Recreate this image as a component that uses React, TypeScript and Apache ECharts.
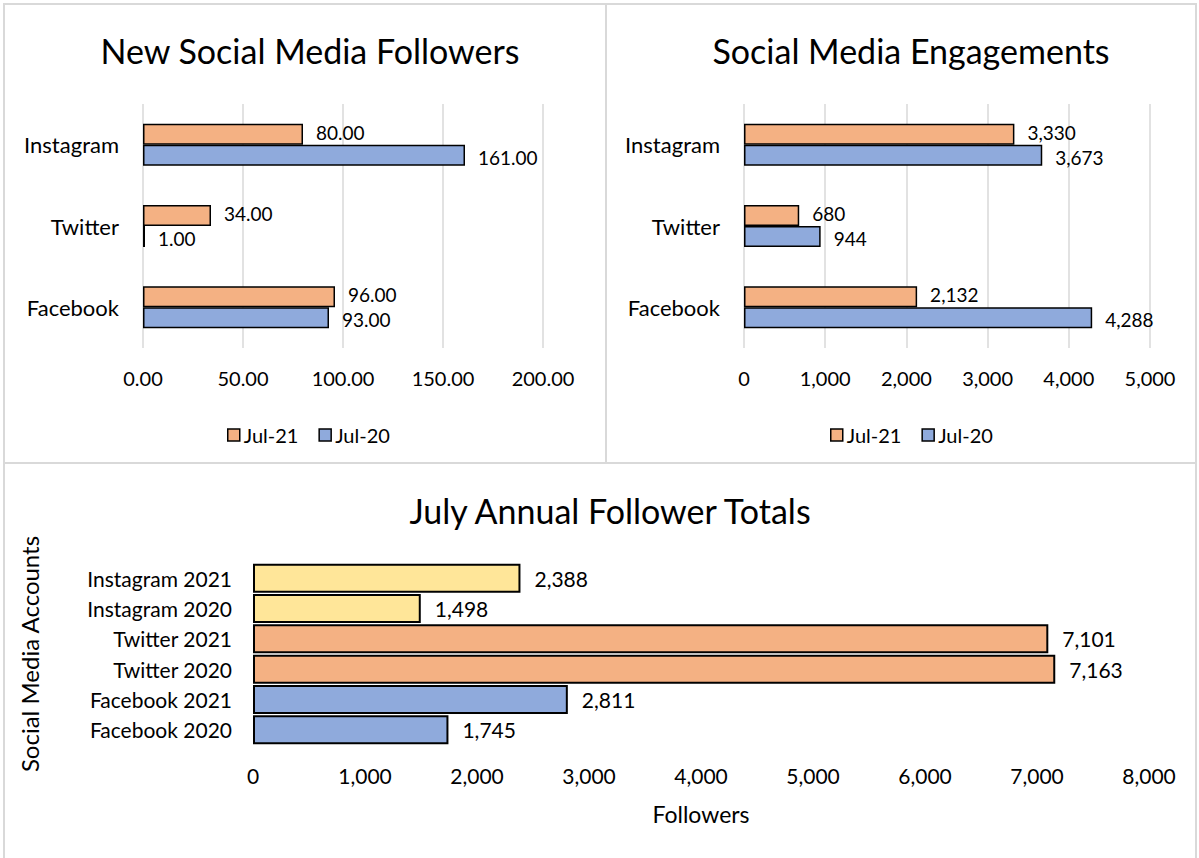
import React, { useEffect, useRef } from "react";
import * as echarts from "echarts";

const platforms = ["Facebook", "Twitter", "Instagram"];
const newFollowersJul20 = [93, 1, 161];
const newFollowersJul21 = [96, 34, 80];
const engagementsJul20 = [4288, 944, 3673];
const engagementsJul21 = [2132, 680, 3330];

const totalCategories = [
  "Facebook 2020",
  "Facebook 2021",
  "Twitter 2020",
  "Twitter 2021",
  "Instagram 2020",
  "Instagram 2021",
];
const totalValues = [1745, 2811, 7163, 7101, 1498, 2388];
const totalColors = ["#8FAADC", "#8FAADC", "#F4B183", "#F4B183", "#FFE699", "#FFE699"];

const ORANGE = "#F4B183";
const BLUE = "#8FAADC";
const FONT = "Lato";
const fmt = (v: number) => v.toLocaleString("en-US");

export default function App() {
  const ref = useRef<HTMLDivElement>(null);
  useEffect(() => {
    document.body.style.margin = "0";
    const chart = echarts.init(ref.current!, undefined, { renderer: "svg" });
    const catAxisBase = {
      type: "category" as const,
      axisLine: { show: false },
      axisTick: { show: false },
      axisLabel: { color: "#000", fontSize: 22, fontFamily: FONT, margin: 24 },
    };
    const valLabel = { color: "#000", fontSize: 20, fontFamily: FONT, margin: 20 };
    const barStyle = (c: string) => ({ color: c, borderColor: "#000", borderWidth: 1.5 });
    const titleStyle = { fontSize: 34, fontWeight: "normal", color: "#000", fontFamily: FONT };
    const legendBase = {
      data: ["Jul-21", "Jul-20"], top: 420, itemWidth: 12, itemHeight: 12, itemGap: 20,
      textStyle: { fontSize: 20, color: "#000", fontFamily: FONT, padding: [0, 0, 0, -1] },
      icon: "rect",
      itemStyle: { borderColor: "#000", borderWidth: 1.5 },
    };
    const labelTop = (f: (v: number) => string, dy: number) => ({
      show: true, position: "right", distance: 13, fontSize: 19, color: "#000", fontFamily: FONT,
      offset: [0, dy],
      formatter: (p: any) => f(p.value),
    });
    chart.setOption({
      animation: false,
      backgroundColor: "#fff",
      textStyle: { fontFamily: FONT },
      title: [
        { text: "New Social Media Followers", left: 305, top: 28, textAlign: "center", textStyle: titleStyle },
        { text: "Social Media Engagements", left: 906, top: 28, textAlign: "center", textStyle: titleStyle },
        { text: "July Annual Follower Totals", left: 605, top: 488, textAlign: "center", textStyle: titleStyle },
      ],
      legend: [
        { ...legendBase, left: 222 },
        { ...legendBase, left: 825 },
      ],
      grid: [
        { left: 143, right: 656, top: 104, height: 244, containLabel: false },
        { left: 744, right: 49, top: 104, height: 244, containLabel: false },
        { left: 253, right: 50, top: 563, height: 182, containLabel: false },
      ],
      xAxis: [
        {
          gridIndex: 0, type: "value", min: 0, max: 200, interval: 50,
          axisLine: { show: false }, axisTick: { show: false },
          splitLine: { lineStyle: { color: "#d9d9d9", width: 1.5 } },
          axisLabel: { ...valLabel, formatter: (v: number) => v.toFixed(2) },
        },
        {
          gridIndex: 1, type: "value", min: 0, max: 5000, interval: 1000,
          axisLine: { show: false }, axisTick: { show: false },
          splitLine: { lineStyle: { color: "#d9d9d9", width: 1.5 } },
          axisLabel: { ...valLabel, formatter: (v: number) => fmt(v) },
        },
        {
          gridIndex: 2, type: "value", min: 0, max: 8000, interval: 1000,
          axisLine: { show: false }, axisTick: { show: false },
          splitLine: { show: false },
          axisLabel: { ...valLabel, fontSize: 21, formatter: (v: number) => fmt(v) },
          name: "Followers", nameLocation: "middle", nameGap: 57,
          nameTextStyle: { fontSize: 23, color: "#000", fontFamily: FONT },
        },
      ],
      yAxis: [
        { ...catAxisBase, gridIndex: 0, data: platforms },
        { ...catAxisBase, gridIndex: 1, data: platforms },
        {
          ...catAxisBase, gridIndex: 2, data: totalCategories,
          axisLabel: { ...catAxisBase.axisLabel, fontSize: 21, margin: 21 },
          name: "Social Media Accounts", nameLocation: "middle", nameGap: 212, nameRotate: 90,
          nameTextStyle: { fontSize: 24, color: "#000", fontFamily: FONT },
        },
      ],
      series: [
        {
          name: "Jul-21", type: "bar", xAxisIndex: 0, yAxisIndex: 0, data: newFollowersJul21,
          barWidth: 21, barGap: "0%", itemStyle: barStyle(ORANGE),
          label: labelTop((v) => v.toFixed(2), -2),
        },
        {
          name: "Jul-20", type: "bar", xAxisIndex: 0, yAxisIndex: 0, data: newFollowersJul20,
          barWidth: 21, barGap: "0%", itemStyle: barStyle(BLUE),
          label: labelTop((v) => v.toFixed(2), 2),
        },
        {
          name: "Jul-21", type: "bar", xAxisIndex: 1, yAxisIndex: 1, data: engagementsJul21,
          barWidth: 21, barGap: "0%", itemStyle: barStyle(ORANGE),
          label: labelTop(fmt, -2),
        },
        {
          name: "Jul-20", type: "bar", xAxisIndex: 1, yAxisIndex: 1, data: engagementsJul20,
          barWidth: 21, barGap: "0%", itemStyle: barStyle(BLUE),
          label: labelTop(fmt, 2),
        },
        {
          name: "Totals", type: "bar", xAxisIndex: 2, yAxisIndex: 2,
          data: totalValues.map((v, i) => ({ value: v, itemStyle: { color: totalColors[i] } })),
          barWidth: 29, itemStyle: { borderColor: "#000", borderWidth: 2 },
          label: { show: true, position: "right", distance: 14, fontSize: 21, color: "#000", fontFamily: FONT, formatter: (p: any) => fmt(p.value) },
        },
      ],
      graphic: [
        { type: "rect", shape: { x: 4, y: 4, width: 1192, height: 860 }, style: { fill: "none", stroke: "#d9d9d9", lineWidth: 2 }, silent: true },
        { type: "line", shape: { x1: 606, y1: 4, x2: 606, y2: 463 }, style: { stroke: "#d9d9d9", lineWidth: 2 }, silent: true },
        { type: "line", shape: { x1: 4, y1: 463, x2: 1196, y2: 463 }, style: { stroke: "#d9d9d9", lineWidth: 2 }, silent: true },
      ],
    });
    return () => chart.dispose();
  }, []);
  return <div ref={ref} style={{ width: 1199, height: 858 }} />;
}
